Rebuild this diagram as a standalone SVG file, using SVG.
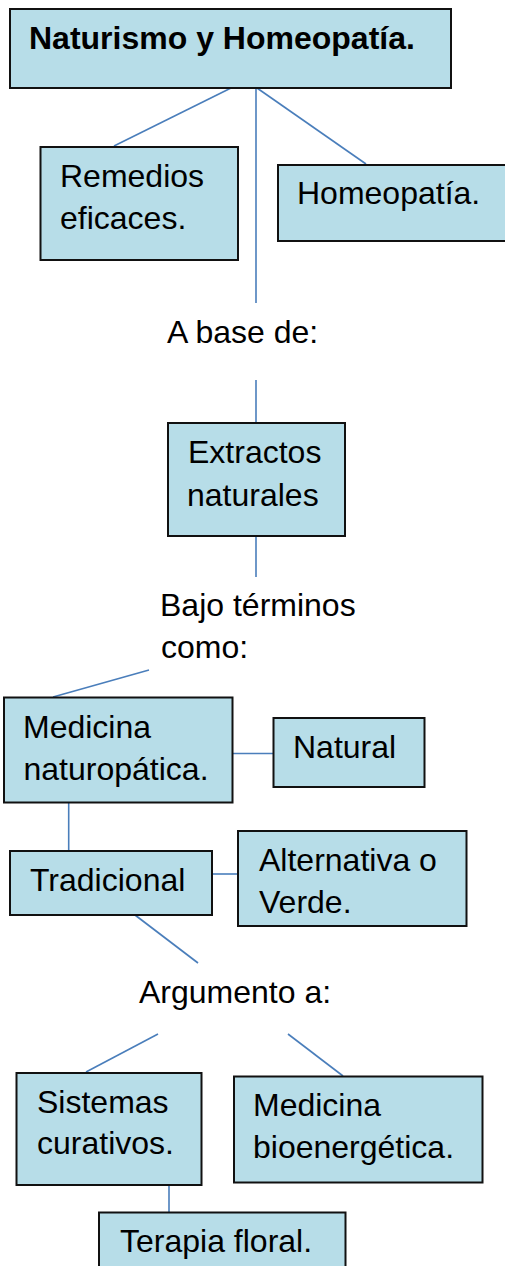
<svg xmlns="http://www.w3.org/2000/svg" width="505" height="1266" viewBox="0 0 505 1266">
<style>
.box{fill:#b7dde8;stroke:#111;stroke-width:2}
.t{font-family:"Liberation Sans",Arial,sans-serif;font-size:32px;fill:#000}
.b{font-weight:bold}
.c line{stroke:#4a7ebb;stroke-width:1.6}
</style>
<rect width="505" height="1266" fill="#fff"/>
<g class="c" id="connectors">
<line x1="231" y1="88" x2="114" y2="146"/>
<line x1="256" y1="88" x2="256" y2="303"/>
<line x1="257" y1="88" x2="366" y2="164"/>
<line x1="256" y1="380" x2="256" y2="423"/>
<line x1="256" y1="536" x2="256" y2="577"/>
<line x1="149" y1="670" x2="53" y2="697"/>
<line x1="232" y1="753.5" x2="274" y2="753.5"/>
<line x1="68.7" y1="803" x2="68.7" y2="851"/>
<line x1="212" y1="874" x2="238" y2="874"/>
<line x1="135" y1="915" x2="198" y2="963"/>
<line x1="158" y1="1034" x2="86" y2="1072"/>
<line x1="288" y1="1034" x2="343" y2="1076"/>
<line x1="169" y1="1185" x2="169" y2="1212"/>
</g>
<g id="n-title"><rect class="box" x="10" y="9" width="441" height="79"/><text class="t b" x="29" y="49">Naturismo y Homeopatía.</text></g>
<g id="n-remedios"><rect class="box" x="40.5" y="147" width="197.5" height="113"/><text class="t" x="60" y="187">Remedios</text><text class="t" x="60" y="229">eficaces.</text></g>
<g id="n-homeopatia"><rect class="box" x="278" y="165" width="240" height="76"/><text class="t" x="297" y="204">Homeopatía.</text></g>
<g id="l-abase"><text class="t" x="167" y="343">A base de:</text></g>
<g id="n-extractos"><rect class="box" x="168" y="423" width="177" height="113"/><text class="t" x="188" y="463">Extractos</text><text class="t" x="187" y="506">naturales</text></g>
<g id="l-bajo"><text class="t" x="160" y="616">Bajo términos</text><text class="t" x="161" y="658">como:</text></g>
<g id="n-medicina-nat"><rect class="box" x="4" y="697.5" width="228.5" height="105"/><text class="t" x="23" y="738">Medicina</text><text class="t" x="23.5" y="780">naturopática.</text></g>
<g id="n-natural"><rect class="box" x="273.5" y="718" width="151" height="69"/><text class="t" x="293" y="758">Natural</text></g>
<g id="n-tradicional"><rect class="box" x="10" y="851" width="202" height="64"/><text class="t" x="30" y="891">Tradicional</text></g>
<g id="n-alternativa"><rect class="box" x="238" y="831" width="228.5" height="95"/><text class="t" x="259" y="871">Alternativa o</text><text class="t" x="259" y="913">Verde.</text></g>
<g id="l-argumento"><text class="t" x="139" y="1003">Argumento a:</text></g>
<g id="n-sistemas"><rect class="box" x="16.5" y="1073" width="185" height="112"/><text class="t" x="37" y="1113">Sistemas</text><text class="t" x="37" y="1154">curativos.</text></g>
<g id="n-medicina-bio"><rect class="box" x="234" y="1076.5" width="248.5" height="106"/><text class="t" x="253" y="1116">Medicina</text><text class="t" x="253" y="1158">bioenergética.</text></g>
<g id="n-terapia"><rect class="box" x="99" y="1212.5" width="246.5" height="70"/><text class="t" x="120" y="1252">Terapia floral.</text></g>
</svg>
